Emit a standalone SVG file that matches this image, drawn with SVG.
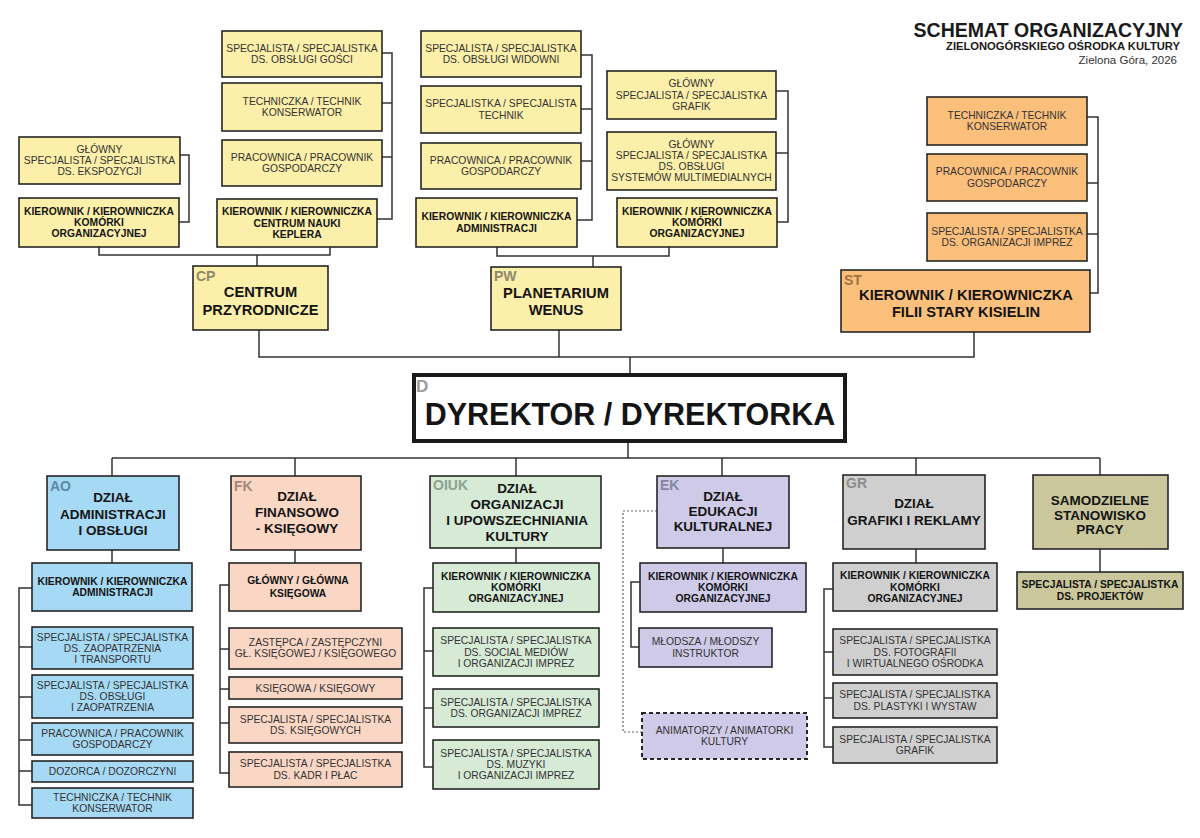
<svg xmlns="http://www.w3.org/2000/svg" width="1200" height="838" viewBox="0 0 1200 838">
<style>
text{font-family:"Liberation Sans",Arial,Helvetica,sans-serif}
.bx{stroke:#262626;stroke-width:1.6}
.y{fill:#fcefa9}.o{fill:#fbbf7c}.b{fill:#a6d9f4}.s{fill:#fad7c5}.g{fill:#d6ead6}.p{fill:#cfcae8}.gr{fill:#cfcfcf}.ol{fill:#c9c79b}
.t{font-size:10.3px;fill:#333;text-anchor:middle}
.tb{font-size:10.3px;font-weight:bold;fill:#141414;text-anchor:middle}
.h{font-size:13.5px;font-weight:bold;fill:#141414;text-anchor:middle}
.h2{font-size:14.7px;font-weight:bold;fill:#141414;text-anchor:middle}
.lb{font-size:14px;font-weight:bold}
.ln{fill:none;stroke:#333;stroke-width:1.5}
.dot{fill:none;stroke:#666;stroke-width:1.2;stroke-dasharray:2 2}
</style>

<g id="title">
<text x="1183" y="37" font-size="19.5" font-weight="bold" fill="#1a1a1a" text-anchor="end">SCHEMAT ORGANIZACYJNY</text>
<text x="1180" y="50" font-size="11.2" font-weight="bold" fill="#1a1a1a" text-anchor="end">ZIELONOGÓRSKIEGO OŚRODKA KULTURY</text>
<text x="1177" y="64" font-size="11.5" fill="#333" text-anchor="end">Zielona Góra, 2026</text>
</g>

<g id="connectors">
<polyline class="ln" points="180,155 189,155 189,222 179,222"/>
<polyline class="ln" points="382,53 392,53 392,219 377,219"/>
<line class="ln" x1="382" y1="103" x2="392" y2="103"/>
<line class="ln" x1="382" y1="157" x2="392" y2="157"/>
<polyline class="ln" points="99,247 99,255 330,255 330,247"/>
<line class="ln" x1="257" y1="255" x2="257" y2="266"/>
<polyline class="ln" points="581,55 592,55 592,220 577,220"/>
<line class="ln" x1="581" y1="109" x2="592" y2="109"/>
<line class="ln" x1="581" y1="161" x2="592" y2="161"/>
<polyline class="ln" points="776,91 788,91 788,222 777,222"/>
<line class="ln" x1="776" y1="153" x2="788" y2="153"/>
<polyline class="ln" points="497,247 497,256 669,256 669,247"/>
<line class="ln" x1="593" y1="256" x2="593" y2="267"/>
<polyline class="ln" points="1087,117 1098,117 1098,293 1090,293"/>
<line class="ln" x1="1087" y1="183" x2="1098" y2="183"/>
<line class="ln" x1="1087" y1="234" x2="1098" y2="234"/>
<polyline class="ln" points="259,330 259,357 974,357 974,332"/>
<line class="ln" x1="559" y1="330" x2="559" y2="357"/>
<line class="ln" x1="630" y1="357" x2="630" y2="373"/>
<line class="ln" x1="628" y1="443" x2="628" y2="458"/>
<line class="ln" x1="112" y1="458" x2="1100" y2="458"/>
<line class="ln" x1="112" y1="458" x2="112" y2="476"/>
<line class="ln" x1="295" y1="458" x2="295" y2="476"/>
<line class="ln" x1="516" y1="458" x2="516" y2="476"/>
<line class="ln" x1="722" y1="458" x2="722" y2="476"/>
<line class="ln" x1="916" y1="458" x2="916" y2="475"/>
<line class="ln" x1="1100" y1="458" x2="1100" y2="475"/>
<line class="ln" x1="112" y1="550" x2="112" y2="563"/>
<line class="ln" x1="295" y1="550" x2="295" y2="563"/>
<line class="ln" x1="516" y1="548" x2="516" y2="563"/>
<line class="ln" x1="723" y1="548" x2="723" y2="563"/>
<line class="ln" x1="916" y1="549" x2="916" y2="563"/>
<line class="ln" x1="1100" y1="549" x2="1100" y2="572"/>
<polyline class="ln" points="32,588 19,588 19,805 32,805"/>
<line class="ln" x1="19" y1="647" x2="32" y2="647"/>
<line class="ln" x1="19" y1="697" x2="32" y2="697"/>
<line class="ln" x1="19" y1="740" x2="32" y2="740"/>
<line class="ln" x1="19" y1="771" x2="32" y2="771"/>
<polyline class="ln" points="229,585 220,585 220,773 229,773"/>
<line class="ln" x1="220" y1="649" x2="229" y2="649"/>
<line class="ln" x1="220" y1="689" x2="229" y2="689"/>
<line class="ln" x1="220" y1="723" x2="229" y2="723"/>
<polyline class="ln" points="433,588 424,588 424,767 433,767"/>
<line class="ln" x1="424" y1="651" x2="433" y2="651"/>
<line class="ln" x1="424" y1="708" x2="433" y2="708"/>
<polyline class="ln" points="640,582 631,582 631,647 639,647"/>
<polyline class="dot" points="657,511 623,511 623,732 642,732"/>
<polyline class="ln" points="833,589 824,589 824,747 833,747"/>
<line class="ln" x1="824" y1="652" x2="833" y2="652"/>
<line class="ln" x1="824" y1="698" x2="833" y2="698"/>
</g>

<g id="cp-spec-goscie"><rect class="bx y" x="222" y="31" width="160" height="46"/><text class="t" x="302" y="51.9">SPECJALISTA / SPECJALISTKA<tspan x="302" y="63.1">DS. OBSŁUGI GOŚCI</tspan></text></g>
<g id="cp-technik"><rect class="bx y" x="222" y="83" width="160" height="48"/><text class="t" x="302" y="104.9">TECHNICZKA / TECHNIK<tspan x="302" y="116.1">KONSERWATOR</tspan></text></g>
<g id="cp-pracownik"><rect class="bx y" x="222" y="140" width="160" height="46"/><text class="t" x="302" y="160.9">PRACOWNICA / PRACOWNIK<tspan x="302" y="172.1">GOSPODARCZY</tspan></text></g>
<g id="cp-kier-cnk"><rect class="bx y" x="217" y="199" width="160" height="48"/><text class="tb" x="297" y="215.3">KIEROWNIK / KIEROWNICZKA<tspan x="297" y="226.5">CENTRUM NAUKI</tspan><tspan x="297" y="237.7">KEPLERA</tspan></text></g>
<g id="cp-glowny-ekspozycji"><rect class="bx y" x="19" y="137" width="161" height="47"/><text class="t" x="99.5" y="152.8">GŁÓWNY<tspan x="99.5" y="164">SPECJALISTA / SPECJALISTKA</tspan><tspan x="99.5" y="175.2">DS. EKSPOZYCJI</tspan></text></g>
<g id="cp-kier-komorki"><rect class="bx y" x="19" y="198" width="160" height="49"/><text class="tb" x="99" y="214.8">KIEROWNIK / KIEROWNICZKA<tspan x="99" y="226">KOMÓRKI</tspan><tspan x="99" y="237.2">ORGANIZACYJNEJ</tspan></text></g>
<g id="cp"><rect class="bx y" x="193" y="266" width="135" height="64"/><text class="lb" x="196" y="281" fill="#8d8a6c">CP</text><text class="h2" x="260.5" y="297">CENTRUM<tspan x="260.5" y="315">PRZYRODNICZE</tspan></text></g>

<g id="pw-spec-widowni"><rect class="bx y" x="421" y="31" width="160" height="46"/><text class="t" x="501" y="51.9">SPECJALISTA / SPECJALISTKA<tspan x="501" y="63.1">DS. OBSŁUGI WIDOWNI</tspan></text></g>
<g id="pw-technik"><rect class="bx y" x="421" y="86" width="160" height="47"/><text class="t" x="501" y="107.4">SPECJALISTKA / SPECJALISTA<tspan x="501" y="118.6">TECHNIK</tspan></text></g>
<g id="pw-pracownik"><rect class="bx y" x="421" y="143" width="160" height="46"/><text class="t" x="501" y="163.9">PRACOWNICA / PRACOWNIK<tspan x="501" y="175.1">GOSPODARCZY</tspan></text></g>
<g id="pw-kier-admin"><rect class="bx y" x="416" y="198" width="161" height="49"/><text class="tb" x="496.5" y="220.4">KIEROWNIK / KIEROWNICZKA<tspan x="496.5" y="231.6">ADMINISTRACJI</tspan></text></g>
<g id="pw-grafik"><rect class="bx y" x="607" y="71" width="169" height="48"/><text class="t" x="691.5" y="87.3">GŁÓWNY<tspan x="691.5" y="98.5">SPECJALISTA / SPECJALISTKA</tspan><tspan x="691.5" y="109.7">GRAFIK</tspan></text></g>
<g id="pw-multimedia"><rect class="bx y" x="607" y="132" width="169" height="58"/><text class="t" x="691.5" y="147.7">GŁÓWNY<tspan x="691.5" y="158.9">SPECJALISTA / SPECJALISTKA</tspan><tspan x="691.5" y="170.1">DS. OBSŁUGI</tspan><tspan x="691.5" y="181.3">SYSTEMÓW MULTIMEDIALNYCH</tspan></text></g>
<g id="pw-kier-komorki"><rect class="bx y" x="617" y="198" width="160" height="49"/><text class="tb" x="697" y="214.8">KIEROWNIK / KIEROWNICZKA<tspan x="697" y="226">KOMÓRKI</tspan><tspan x="697" y="237.2">ORGANIZACYJNEJ</tspan></text></g>
<g id="pw"><rect class="bx y" x="491" y="267" width="130" height="63"/><text class="lb" x="494" y="281" fill="#8d8a6c">PW</text><text class="h2" x="556" y="298">PLANETARIUM<tspan x="556" y="315">WENUS</tspan></text></g>

<g id="st-technik"><rect class="bx o" x="927" y="97" width="160" height="48"/><text class="t" x="1007" y="118.9">TECHNICZKA / TECHNIK<tspan x="1007" y="130.1">KONSERWATOR</tspan></text></g>
<g id="st-pracownik"><rect class="bx o" x="927" y="154" width="160" height="47"/><text class="t" x="1007" y="175.4">PRACOWNICA / PRACOWNIK<tspan x="1007" y="186.6">GOSPODARCZY</tspan></text></g>
<g id="st-imprezy"><rect class="bx o" x="927" y="213" width="160" height="48"/><text class="t" x="1007" y="234.9">SPECJALISTA / SPECJALISTKA<tspan x="1007" y="246.1">DS. ORGANIZACJI IMPREZ</tspan></text></g>
<g id="st"><rect class="bx o" x="841" y="270" width="249" height="62"/><text class="lb" x="844" y="285" fill="#9c7446">ST</text><text class="h2" x="966" y="300">KIEROWNIK / KIEROWNICZKA<tspan x="966" y="316.5">FILII STARY KISIELIN</tspan></text></g>

<g id="d"><rect x="414" y="375" width="431" height="66" fill="#fff" stroke="#1a1a1a" stroke-width="4"/><text x="416" y="392" font-size="17" font-weight="bold" fill="#9a9a9a">D</text><text x="630" y="425" font-size="30.5" font-weight="bold" fill="#141414" text-anchor="middle">DYREKTOR / DYREKTORKA</text></g>

<g id="ao"><rect class="bx b" x="47" y="476" width="132" height="74"/><text class="lb" x="50" y="491" fill="#5b8aa2">AO</text><text class="h" x="113" y="502">DZIAŁ<tspan x="113" y="518.5">ADMINISTRACJI</tspan><tspan x="113" y="535">I OBSŁUGI</tspan></text></g>
<g id="ao-kier"><rect class="bx b" x="32" y="563" width="160" height="48"/><text class="tb" x="112.5" y="584.9">KIEROWNIK / KIEROWNICZKA<tspan x="112.5" y="596.1">ADMINISTRACJI</tspan></text></g>
<g id="ao-zaopatrzenie"><rect class="bx b" x="32" y="627" width="161" height="42"/><text class="t" x="112.5" y="640.5">SPECJALISTA / SPECJALISTKA<tspan x="112.5" y="651.5">DS. ZAOPATRZENIA</tspan><tspan x="112.5" y="662.5">I TRANSPORTU</tspan></text></g>
<g id="ao-obsluga"><rect class="bx b" x="32" y="675" width="161" height="43"/><text class="t" x="112.5" y="689">SPECJALISTA / SPECJALISTKA<tspan x="112.5" y="700">DS. OBSŁUGI</tspan><tspan x="112.5" y="711">I ZAOPATRZENIA</tspan></text></g>
<g id="ao-pracownik"><rect class="bx b" x="32" y="723" width="161" height="32"/><text class="t" x="112.5" y="736.9">PRACOWNICA / PRACOWNIK<tspan x="112.5" y="748.1">GOSPODARCZY</tspan></text></g>
<g id="ao-dozorca"><rect class="bx b" x="32" y="761" width="161" height="21"/><text class="t" x="112.5" y="775">DOZORCA / DOZORCZYNI</text></g>
<g id="ao-technik"><rect class="bx b" x="32" y="788" width="161" height="30"/><text class="t" x="112.5" y="800.9">TECHNICZKA / TECHNIK<tspan x="112.5" y="812.1">KONSERWATOR</tspan></text></g>

<g id="fk"><rect class="bx s" x="231" y="476" width="130" height="74"/><text class="lb" x="234" y="491" fill="#a2877b">FK</text><text class="h" x="297" y="501">DZIAŁ<tspan x="297" y="517">FINANSOWO</tspan><tspan x="297" y="533">- KSIĘGOWY</tspan></text></g>
<g id="fk-glowna"><rect class="bx s" x="229" y="563" width="132" height="48"/><text class="tb" x="298" y="583.5">GŁÓWNY / GŁÓWNA<tspan x="298" y="597">KSIĘGOWA</tspan></text></g>
<g id="fk-zastepca"><rect class="bx s" x="229" y="628" width="173" height="41"/><text class="t" x="315.5" y="646">ZASTĘPCA / ZASTĘPCZYNI<tspan x="315.5" y="657.4">GŁ. KSIĘGOWEJ / KSIĘGOWEGO</tspan></text></g>
<g id="fk-ksiegowa"><rect class="bx s" x="229" y="677" width="173" height="22"/><text class="t" x="315.5" y="691.5">KSIĘGOWA / KSIĘGOWY</text></g>
<g id="fk-spec-ksiegowych"><rect class="bx s" x="229" y="707" width="173" height="36"/><text class="t" x="315.5" y="722.9">SPECJALISTA / SPECJALISTKA<tspan x="315.5" y="734.1">DS. KSIĘGOWYCH</tspan></text></g>
<g id="fk-kadry"><rect class="bx s" x="229" y="752" width="173" height="35"/><text class="t" x="315.5" y="767.4">SPECJALISTA / SPECJALISTKA<tspan x="315.5" y="778.6">DS. KADR I PŁAC</tspan></text></g>

<g id="oiuk"><rect class="bx g" x="430" y="476" width="171" height="72"/><text class="lb" x="433" y="490" fill="#8ea28e">OIUK</text><text class="h" x="517" y="493">DZIAŁ<tspan x="517" y="509">ORGANIZACJI</tspan><tspan x="517" y="525">I UPOWSZECHNIANIA</tspan><tspan x="517" y="540.5">KULTURY</tspan></text></g>
<g id="oiuk-kier"><rect class="bx g" x="433" y="563" width="166" height="49"/><text class="tb" x="516" y="579.8">KIEROWNIK / KIEROWNICZKA<tspan x="516" y="591">KOMÓRKI</tspan><tspan x="516" y="602.2">ORGANIZACYJNEJ</tspan></text></g>
<g id="oiuk-social"><rect class="bx g" x="433" y="628" width="166" height="48"/><text class="t" x="516" y="644.3">SPECJALISTA / SPECJALISTKA<tspan x="516" y="655.5">DS. SOCIAL MEDIÓW</tspan><tspan x="516" y="666.7">I ORGANIZACJI IMPREZ</tspan></text></g>
<g id="oiuk-imprezy"><rect class="bx g" x="433" y="689" width="166" height="38"/><text class="t" x="516" y="705.9">SPECJALISTA / SPECJALISTKA<tspan x="516" y="717.1">DS. ORGANIZACJI IMPREZ</tspan></text></g>
<g id="oiuk-muzyka"><rect class="bx g" x="433" y="740" width="166" height="49"/><text class="t" x="516" y="756.8">SPECJALISTA / SPECJALISTKA<tspan x="516" y="768">DS. MUZYKI</tspan><tspan x="516" y="779.2">I ORGANIZACJI IMPREZ</tspan></text></g>

<g id="ek"><rect class="bx p" x="657" y="476" width="132" height="72"/><text class="lb" x="660" y="490" fill="#8884a2">EK</text><text class="h" x="723" y="501">DZIAŁ<tspan x="723" y="516">EDUKACJI</tspan><tspan x="723" y="531">KULTURALNEJ</tspan></text></g>
<g id="ek-kier"><rect class="bx p" x="640" y="563" width="166" height="49"/><text class="tb" x="723" y="579.8">KIEROWNIK / KIEROWNICZKA<tspan x="723" y="591">KOMÓRKI</tspan><tspan x="723" y="602.2">ORGANIZACYJNEJ</tspan></text></g>
<g id="ek-instruktor"><rect class="bx p" x="639" y="628" width="133" height="39"/><text class="t" x="705.5" y="645.4">MŁODSZA / MŁODSZY<tspan x="705.5" y="656.6">INSTRUKTOR</tspan></text></g>
<g id="ek-animatorzy"><rect class="p" x="642" y="713" width="165" height="46" stroke="#262626" stroke-width="2" stroke-dasharray="4 3"/><text class="t" x="724.5" y="733.9">ANIMATORZY / ANIMATORKI<tspan x="724.5" y="745.1">KULTURY</tspan></text></g>

<g id="gr"><rect class="bx gr" x="843" y="475" width="142" height="74"/><text class="lb" x="846" y="488" fill="#8c8c8c">GR</text><text class="h" x="914" y="508">DZIAŁ<tspan x="914" y="525">GRAFIKI I REKLAMY</tspan></text></g>
<g id="gr-kier"><rect class="bx gr" x="833" y="563" width="164" height="48"/><text class="tb" x="915" y="579.3">KIEROWNIK / KIEROWNICZKA<tspan x="915" y="590.5">KOMÓRKI</tspan><tspan x="915" y="601.7">ORGANIZACYJNEJ</tspan></text></g>
<g id="gr-foto"><rect class="bx gr" x="833" y="629" width="164" height="46"/><text class="t" x="915" y="644.3" fill="#444">SPECJALISTA / SPECJALISTKA<tspan x="915" y="655.5">DS. FOTOGRAFII</tspan><tspan x="915" y="666.7">I WIRTUALNEGO OŚRODKA</tspan></text></g>
<g id="gr-plastyka"><rect class="bx gr" x="833" y="683" width="164" height="35"/><text class="t" x="915" y="698.4" fill="#444">SPECJALISTA / SPECJALISTKA<tspan x="915" y="709.6">DS. PLASTYKI I WYSTAW</tspan></text></g>
<g id="gr-grafik"><rect class="bx gr" x="833" y="727" width="164" height="36"/><text class="t" x="915" y="742.9" fill="#444">SPECJALISTA / SPECJALISTKA<tspan x="915" y="754.1">GRAFIK</tspan></text></g>

<g id="ssp"><rect class="bx ol" x="1033" y="475" width="135" height="74"/><text class="h" x="1100" y="505">SAMODZIELNE<tspan x="1100" y="519.5">STANOWISKO</tspan><tspan x="1100" y="534">PRACY</tspan></text></g>
<g id="ssp-projekty"><rect class="bx ol" x="1017" y="572" width="166" height="37"/><text class="tb" x="1100" y="588.4">SPECJALISTA / SPECJALISTKA<tspan x="1100" y="599.6">DS. PROJEKTÓW</tspan></text></g>
</svg>
